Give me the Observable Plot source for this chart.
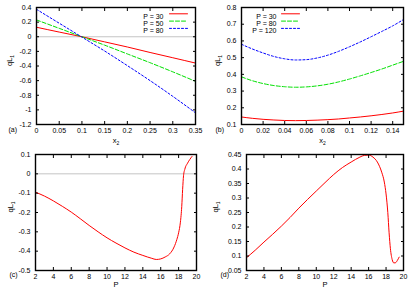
<!DOCTYPE html>
<html><head><meta charset="utf-8">
<script src="https://cdn.jsdelivr.net/npm/d3@7"></script>
<script src="https://cdn.jsdelivr.net/npm/@observablehq/plot@0.6"></script>
<style>
body{margin:0;background:#fff;}
#wrap{position:relative;width:415px;height:291px;background:#fff;}
.panel{position:absolute;}
</style></head><body><div id="wrap"></div>
<script>
// ---- Panel (a) ----
const aX = [0, 0.05, 0.1, 0.15, 0.2, 0.25, 0.3, 0.35];
const aP30 = [0.13, 0.064, 0.0, -0.07, -0.14, -0.215, -0.287, -0.36];
const aP50 = [0.23, 0.115, 0.0, -0.115, -0.235, -0.355, -0.48, -0.61];
const aP80 = [0.375, 0.185, -0.005, -0.195, -0.395, -0.6, -0.815, -1.04];
const aXTicks = [0, 0.05, 0.1, 0.15, 0.2, 0.25, 0.3, 0.35];
const aYTicks = [-1.2, -1, -0.8, -0.6, -0.4, -0.2, 0, 0.2, 0.4];
const aLegend = ["P = 30", "P = 50", "P = 80"];

// ---- Panel (b) ----
const bX = [0, 0.01, 0.02, 0.03, 0.04, 0.05, 0.06, 0.07, 0.08, 0.09, 0.1, 0.11, 0.12, 0.13, 0.14, 0.15];
const bP30 = [0.145, 0.137, 0.131, 0.127, 0.124, 0.123, 0.124, 0.126, 0.129, 0.133, 0.139, 0.145, 0.152, 0.16, 0.169, 0.18];
const bP80 = [0.385, 0.362, 0.345, 0.333, 0.326, 0.323, 0.325, 0.331, 0.341, 0.355, 0.372, 0.391, 0.411, 0.432, 0.455, 0.478];
const bP120 = [0.58, 0.552, 0.528, 0.507, 0.493, 0.486, 0.488, 0.498, 0.515, 0.538, 0.565, 0.594, 0.625, 0.657, 0.69, 0.728];
const bXTicks = [0, 0.02, 0.04, 0.06, 0.08, 0.1, 0.12, 0.14];
const bYTicks = [0.1, 0.2, 0.3, 0.4, 0.5, 0.6, 0.7, 0.8];
const bLegend = ["P = 30", "P = 80", "P = 120"];

// ---- Panel (c) ----
const cP = [2, 3, 4, 5, 6, 7, 8, 9, 10, 11, 12, 13, 14, 15, 15.5, 16, 16.5, 17, 17.5, 17.8, 18, 18.2, 18.35, 18.45, 18.55, 18.7, 19, 19.5];
const cQ = [-0.095, -0.115, -0.14, -0.168, -0.198, -0.232, -0.267, -0.3, -0.331, -0.358, -0.383, -0.405, -0.422, -0.437, -0.443, -0.44, -0.43, -0.414, -0.378, -0.34, -0.305, -0.25, -0.17, -0.08, -0.01, 0.025, 0.055, 0.09];
const cXTicks = [2, 4, 6, 8, 10, 12, 14, 16, 18, 20];
const cYTicks = [-0.5, -0.4, -0.3, -0.2, -0.1, 0, 0.1];

// ---- Panel (d) ----
const dP = [2, 3, 4, 5, 6, 7, 8, 9, 10, 11, 12, 13, 14, 15, 15.5, 16, 16.5, 17, 17.5, 17.8, 18, 18.2, 18.35, 18.5, 18.7, 18.9, 19.1, 19.3, 19.5];
const dQ = [0.094, 0.12, 0.148, 0.175, 0.203, 0.233, 0.265, 0.295, 0.324, 0.353, 0.381, 0.405, 0.424, 0.441, 0.447, 0.448, 0.441, 0.424, 0.389, 0.355, 0.314, 0.25, 0.18, 0.125, 0.088, 0.076, 0.077, 0.085, 0.096];
const dXTicks = [2, 4, 6, 8, 10, 12, 14, 16, 18, 20];
const dYTicks = [0.05, 0.1, 0.15, 0.2, 0.25, 0.3, 0.35, 0.4, 0.45];

const colors = ["#ff0000", "#00e000", "#0000ff"];
const dashes = [null, "4,2", "2,2"];
const FONT = "Liberation Sans, Arial, Helvetica, sans-serif";

function toRows(xs, ys) { return xs.map((x, i) => ({x, y: ys[i]})); }

const lineShape = {draw(ctx, l) { ctx.moveTo(0, 0); ctx.lineTo(0, -l); }};

function panel(o) {
  const marks = [];
  if (o.zero) marks.push(Plot.ruleY([0], {stroke: "#c4c4c4", strokeWidth: 1}));
  o.series.forEach((s, i) => {
    marks.push(Plot.line(toRows(o.xs, s), {x: "x", y: "y", stroke: colors[i], strokeWidth: 1, strokeDasharray: dashes[i], curve: "monotone-x"}));
  });
  const fmt = d => String(d);
  const blank = () => "";
  marks.push(
    Plot.axisX({ticks: o.xTicks, anchor: "bottom", tickSize: -3, tickPadding: 7, tickFormat: fmt, fontSize: 7, label: null, fill: "#000"}),
    Plot.axisX({ticks: o.xTicks, anchor: "top", tickSize: -3, tickPadding: 7, tickFormat: blank, label: null}),
    Plot.axisY({ticks: o.yTicks, anchor: "left", tickSize: -3, tickPadding: 8, tickFormat: fmt, fontSize: 7, label: null, fill: "#000"}),
    Plot.axisY({ticks: o.yTicks, anchor: "right", tickSize: -3, tickPadding: 8, tickFormat: blank, label: null}),
    Plot.frame({stroke: "#000", strokeWidth: 1.4}),
    Plot.text(["qL1"], {frameAnchor: "left", dx: o.yLabelDx, rotate: -90, fontSize: 7.5, fill: "#000"}),
    Plot.text([o.xLabel], {frameAnchor: "bottom", dy: o.xLabelDy, fontSize: 7.5, fill: "#000"}),
    Plot.text([o.tag], {frameAnchor: "bottom-left", dx: o.tagDx, dy: o.tagDy, fontSize: 7, fill: "#000"})
  );
  if (o.legend) {
    const L = o.legend;
    L.names.forEach((name, i) => {
      const dy = L.dy0 + i * 7.3;
      marks.push(Plot.text([name], {frameAnchor: L.anchor, dx: L.textDx, dy, textAnchor: "end", fontSize: 7, fill: "#000"}));
      marks.push(Plot.vector([0], {frameAnchor: L.anchor, dx: L.lineDx, dy, length: 18, rotate: 90, anchor: "start", shape: lineShape, stroke: colors[i], strokeWidth: 1, strokeDasharray: dashes[i]}));
    });
  }
  const svg = Plot.plot({
    width: o.w, height: o.h,
    marginLeft: o.m[0], marginTop: o.m[1], marginRight: o.m[2], marginBottom: o.m[3],
    x: {domain: o.xDomain}, y: {domain: o.yDomain},
    style: {fontFamily: FONT, fontSize: "7px", background: "white", color: "#000"},
    marks
  });
  svg.querySelectorAll("text").forEach(t => {
    if (t.textContent === "qL1") t.innerHTML = 'qL<tspan dy="2" font-size="5">1</tspan>';
    else if (t.textContent === "x2") t.innerHTML = 'x<tspan dy="2" font-size="5">2</tspan>';
  });
  const div = document.createElement("div");
  div.className = "panel";
  div.style.left = o.left + "px"; div.style.top = o.top + "px";
  div.appendChild(svg);
  document.getElementById("wrap").appendChild(div);
}

panel({left: 0, top: 0, w: 207, h: 146, m: [36, 7, 12, 22],
  xs: aX, series: [aP30, aP50, aP80], xDomain: [0, 0.35], yDomain: [-1.2, 0.4],
  xTicks: aXTicks, yTicks: aYTicks, zero: true, xLabel: "x2", tag: "(a)",
  yLabelDx: -27, xLabelDy: 18, tagDx: -28, tagDy: 7,
  legend: {names: aLegend, anchor: "top-right", textDx: -32, lineDx: -26, dy0: 6.3}});

panel({left: 207, top: 0, w: 208, h: 146, m: [34, 7, 12, 22],
  xs: bX, series: [bP30, bP80, bP120], xDomain: [0, 0.15], yDomain: [0.1, 0.8],
  xTicks: bXTicks, yTicks: bYTicks, zero: false, xLabel: "x2", tag: "(b)",
  yLabelDx: -24, xLabelDy: 18, tagDx: -26, tagDy: 7,
  legend: {names: bLegend, anchor: "top-left", textDx: 35, lineDx: 40, dy0: 6.3}});

panel({left: 0, top: 146, w: 207, h: 145, m: [35, 8, 11, 21],
  xs: cP, series: [cQ], xDomain: [2, 20], yDomain: [-0.5, 0.1],
  xTicks: cXTicks, yTicks: cYTicks, zero: true, xLabel: "P", tag: "(c)",
  yLabelDx: -25, xLabelDy: 16, tagDx: -26, tagDy: 6});

panel({left: 207, top: 146, w: 208, h: 145, m: [39, 8, 12, 21],
  xs: dP, series: [dQ], xDomain: [2, 20], yDomain: [0.05, 0.45],
  xTicks: dXTicks, yTicks: dYTicks, zero: false, xLabel: "P", tag: "(d)",
  yLabelDx: -31, xLabelDy: 16, tagDx: -26, tagDy: 6});
</script>
</body></html>
